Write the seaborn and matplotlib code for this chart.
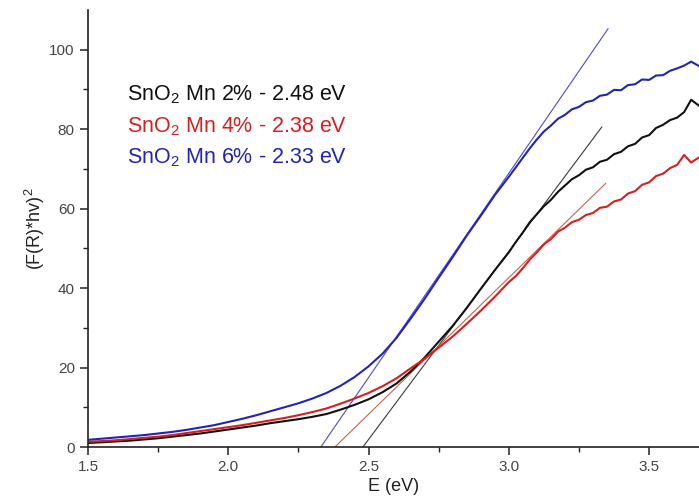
import numpy as np
import pandas as pd
import matplotlib
matplotlib.use("Agg")
import matplotlib.pyplot as plt
import seaborn as sns

# Photon energy (eV)
energy = [1.50, 1.55, 1.60, 1.65, 1.70, 1.75, 1.80, 1.85, 1.90, 1.95,
          2.00, 2.05, 2.10, 2.15, 2.20, 2.25, 2.30, 2.35, 2.40, 2.45,
          2.50, 2.55, 2.60, 2.65, 2.70, 2.75, 2.80, 2.85, 2.90, 2.95,
          3.00, 3.025, 3.05, 3.075, 3.10, 3.125, 3.15, 3.175, 3.20, 3.225,
          3.25, 3.275, 3.30, 3.325, 3.35, 3.375, 3.40, 3.425, 3.45, 3.475,
          3.50, 3.525, 3.55, 3.575, 3.60, 3.625, 3.65, 3.68]

# Kubelka-Munk function (F(R)*hv)^2 for each Mn content
km_mn2 = [1.0, 1.2, 1.4, 1.6, 1.9, 2.2, 2.6, 3.0, 3.4, 3.9,
          4.4, 4.9, 5.4, 6.0, 6.5, 7.0, 7.6, 8.3, 9.4, 10.6,
          12.0, 13.8, 16.0, 19.0, 22.5, 26.5, 30.5, 35.0, 39.8, 44.5,
          49.0, 51.6, 54.0, 56.6, 58.6, 60.6, 62.2, 64.2, 65.8, 67.4,
          68.4, 69.8, 70.4, 71.8, 72.3, 73.7, 74.3, 75.7, 76.3, 77.9,
          78.5, 80.3, 81.1, 82.3, 82.9, 84.3, 87.4, 85.8]
km_mn4 = [1.3, 1.5, 1.7, 2.0, 2.3, 2.6, 3.0, 3.5, 4.0, 4.5,
          5.0, 5.5, 6.1, 6.7, 7.3, 8.0, 8.8, 9.7, 10.9, 12.2,
          13.6, 15.3, 17.3, 19.8, 22.2, 25.0, 27.8, 31.0, 34.3, 37.8,
          41.5, 43.0, 45.0, 47.2, 49.0, 51.0, 52.3, 54.2, 55.2, 56.6,
          57.2, 58.4, 58.9, 60.2, 60.5, 61.8, 62.3, 63.8, 64.4, 66.0,
          66.6, 68.2, 68.8, 70.2, 71.0, 73.5, 71.6, 73.0]
km_mn6 = [1.8, 2.1, 2.4, 2.7, 3.0, 3.4, 3.8, 4.3, 4.9, 5.5,
          6.3, 7.1, 8.0, 9.0, 10.0, 11.0, 12.2, 13.6, 15.4, 17.6,
          20.3, 23.5, 27.5, 32.3, 37.3, 42.6, 47.8, 53.2, 58.2, 63.4,
          68.0, 70.4, 72.8, 75.2, 77.4, 79.4, 80.9, 82.6, 83.6, 85.0,
          85.6, 86.8, 87.2, 88.4, 88.7, 89.9, 89.8, 91.1, 91.3, 92.5,
          92.4, 93.5, 93.6, 94.7, 95.3, 96.0, 97.0, 95.8]

samples = ["Mn 2%", "Mn 4%", "Mn 6%"]
band_gap = [2.48, 2.38, 2.33]
# Linear extrapolation segments: start on the energy axis at the band gap
tangent_end_x = [3.332, 3.346, 3.354]
tangent_end_y = [80.6, 66.4, 105.3]

curve_colors = ["#111111", "#d81e1e", "#2323b8"]
tangent_colors = ["#3a3a3a", "#d0604a", "#4b4bd2"]

sns.set_style("ticks")
plt.rcParams["font.family"] = ["Liberation Sans", "DejaVu Sans"]
plt.rcParams["mathtext.default"] = "regular"

fig = plt.figure(figsize=(6.99, 4.99), dpi=100)
ax = fig.add_axes([0.1259, 0.1042, 0.8741, 0.8758])

long_df = pd.DataFrame({
    "E": energy * 3,
    "KM": km_mn2 + km_mn4 + km_mn6,
    "sample": [s for s in samples for _ in energy],
})

for i, s in enumerate(samples):
    tdf = pd.DataFrame({"E": [band_gap[i], tangent_end_x[i]],
                        "KM": [0.0, tangent_end_y[i]]})
    sns.lineplot(data=tdf, x="E", y="KM", ax=ax, color=tangent_colors[i],
                 linewidth=0.8, legend=False)

sns.lineplot(data=long_df, x="E", y="KM", hue="sample",
             palette=dict(zip(samples, curve_colors)), ax=ax,
             linewidth=1.5, legend=False, sort=False)

for i, s in enumerate(samples):
    ax.text(0.064, 0.805 - i * 0.0712,
            f"SnO$_2$ {s} - {band_gap[i]:.2f} eV",
            transform=ax.transAxes, color=curve_colors[i],
            fontsize=15.5, va="center", ha="left")

ax.set_xlim(1.5, 3.678)
ax.set_ylim(0, 110)
ax.set_xticks([1.5, 2.0, 2.5, 3.0, 3.5])
ax.set_xticks([1.75, 2.25, 2.75, 3.25], minor=True)
ax.set_yticks([0, 20, 40, 60, 80, 100])
ax.set_yticks([10, 30, 50, 70, 90], minor=True)
ax.set_xticklabels(["1.5", "2.0", "2.5", "3.0", "3.5"])
ax.tick_params(axis="both", which="major", direction="out", length=6,
               width=1.1, labelsize=11, labelcolor="#444444", color="#222222")
ax.tick_params(axis="both", which="minor", direction="out", length=3.5,
               width=1.0, color="#222222")
for side in ["left", "bottom"]:
    ax.spines[side].set_linewidth(1.2)
    ax.spines[side].set_color("#222222")
sns.despine(ax=ax)

ax.set_xlabel("E (eV)", fontsize=13, color="#222222", labelpad=3)
ax.set_ylabel("(F(R)*hv)$^2$", fontsize=13, color="#222222", labelpad=2)

fig.savefig("out.png", dpi=100)
